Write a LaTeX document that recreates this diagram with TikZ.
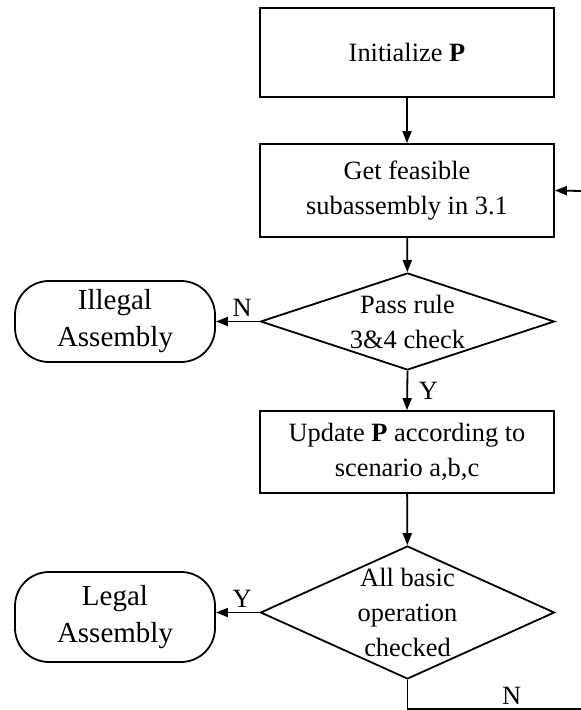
\documentclass[tikz,border=0pt]{standalone}
\usepackage{fontspec}
\setmainfont{Liberation Serif}
\usetikzlibrary{shapes.geometric,arrows.meta}

\tikzset{
	proc/.style={draw,align=center,minimum width=147pt},
	decide/.style={draw,diamond,inner sep=0pt,minimum width=147pt},
	term/.style={draw,rounded corners=17pt,align=center,minimum width=100pt,font=\fontsize{14.5}{18.5}\selectfont},
	tag/.style={inner sep=2pt}
}

\begin{document}
\begin{tikzpicture}[x=0.5pt,y=-0.5pt,line width=0.9pt,>={Triangle[length=6pt,width=4.5pt]},
		every node/.style={font=\fontsize{13.2}{17.5}\selectfont}]
	\useasboundingbox (0,0) rectangle (581,710);
	% main column
	\node[proc,minimum height=44.5pt] (init) at (407,52.5) {Initialize \textbf{P}};
	\node[proc,minimum height=46.5pt] (getsub) at (407,190.5) {Get feasible\\subassembly in 3.1};
	\node[decide,minimum height=48.5pt,label={[align=center]center:{Pass rule\\3\&4 check}}] (rulechk) at (407.5,321.5) {};
	\node[proc,minimum height=41pt] (update) at (407,452) {Update \textbf{P} according to\\scenario a,b,c};
	\node[decide,minimum height=66.5pt,label={[align=center]center:{All basic\\operation\\checked}}] (allchk) at (407.5,612.5) {};
	% end states
	\node[term,minimum height=40.5pt] (illegal) at (115,321.5) {Illegal\\Assembly};
	\node[term,minimum height=45pt] (legal) at (115,617) {Legal\\Assembly};
	% loop ends at the picture edge
	\coordinate (loopout) at (581,709);
	\coordinate (loopin) at (581,191);

	\draw[->] (init) -- (getsub);
	\draw[->] (getsub) -- (rulechk);
	\draw[->] (rulechk.west) -- node[tag,above,pos=0.4]{N} (illegal.east);
	\draw[->] (rulechk.south) -- node[right,xshift=2pt]{Y} (update.north);
	\draw[->] (update) -- (allchk);
	\draw[->] (allchk.west) -- node[tag,above,pos=0.4]{Y} (allchk.west -| legal.east);
	\draw (allchk.south) |- node[tag,above,pos=0.8]{N} (loopout);
	\draw[->] (loopin) -- (getsub.east);
\end{tikzpicture}
\end{document}
